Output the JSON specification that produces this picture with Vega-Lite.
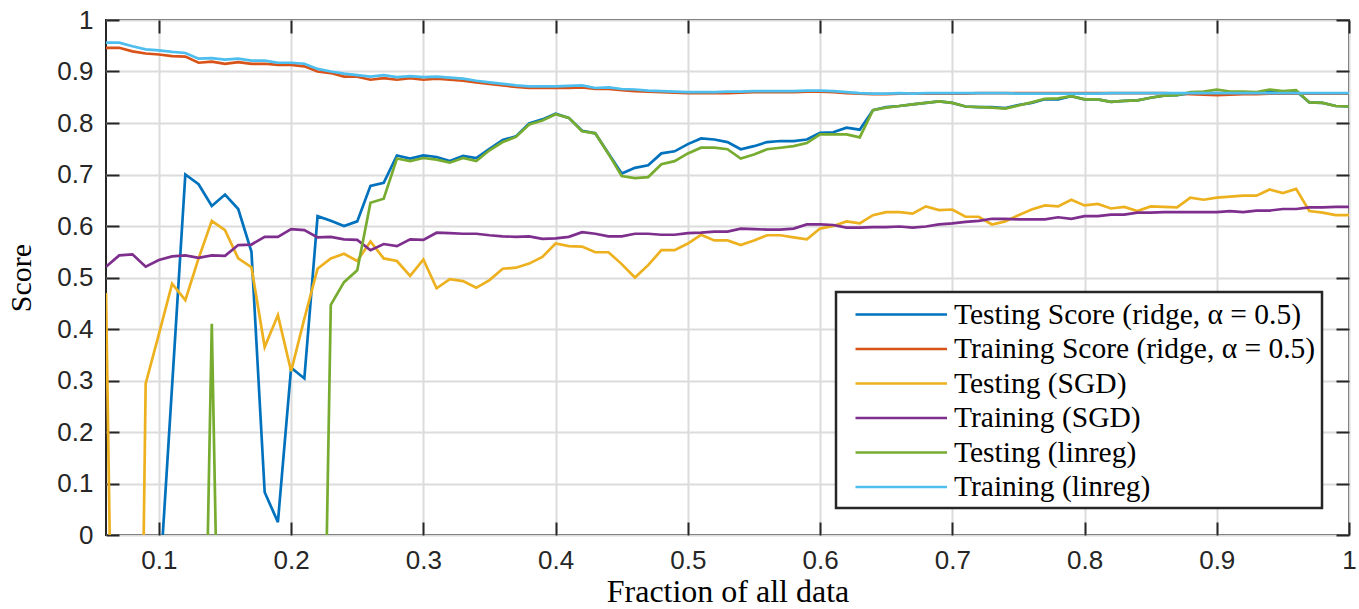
{
"$schema": "https://vega.github.io/schema/vega-lite/v6.json",
"width": 1243, "height": 515,
"autosize": {"type": "none"},
"padding": {"left": 106, "top": 20, "right": 10, "bottom": 74},
"background": "white",
"config": {
  "view": {"stroke": "#262626", "strokeWidth": 2},
  "axis": {"domain": false, "tickColor": "#262626", "tickWidth": 2, "tickSize": -13, "gridColor": "#dcdcdc", "gridWidth": 2,
    "labelFont": "Liberation Sans", "labelFontSize": 26, "labelColor": "#262626", "labelFlush": false, "labelOverlap": false, "labelBound": false,
    "titleFont": "Liberation Serif", "titleFontWeight": "normal", "titleColor": "#000000"}
},
"data": {"values": [
{"x":0.06,"rt":-1,"rr":0.946,"st":0.47,"sr":0.521,"lt":-1,"lr":0.956},
{"x":0.07,"rt":-1,"rr":0.946,"st":-1.21,"sr":0.543,"lt":-1,"lr":0.956},
{"x":0.08,"rt":-1,"rr":0.939,"st":-1.67,"sr":0.545,"lt":-1,"lr":0.949},
{"x":0.09,"rt":-1,"rr":0.935,"st":0.294,"sr":0.521,"lt":-1,"lr":0.943},
{"x":0.1,"rt":-0.12,"rr":0.933,"st":0.39,"sr":0.534,"lt":-1,"lr":0.941},
{"x":0.11,"rt":0.29,"rr":0.93,"st":0.488,"sr":0.541,"lt":-1,"lr":0.938},
{"x":0.12,"rt":0.7,"rr":0.929,"st":0.456,"sr":0.543,"lt":-1,"lr":0.936},
{"x":0.13,"rt":0.681,"rr":0.917,"st":0.537,"sr":0.538,"lt":-0.96,"lr":0.925},
{"x":0.14,"rt":0.639,"rr":0.919,"st":0.61,"sr":0.543,"lt":0.41,"lr":0.926},
{"x":0.15,"rt":0.661,"rr":0.915,"st":0.592,"sr":0.542,"lt":-0.96,"lr":0.923},
{"x":0.16,"rt":0.633,"rr":0.918,"st":0.537,"sr":0.563,"lt":-1,"lr":0.925},
{"x":0.17,"rt":0.55,"rr":0.915,"st":0.52,"sr":0.564,"lt":-1,"lr":0.921},
{"x":0.18,"rt":0.083,"rr":0.915,"st":0.365,"sr":0.579,"lt":-1,"lr":0.921},
{"x":0.19,"rt":0.025,"rr":0.913,"st":0.427,"sr":0.579,"lt":-1,"lr":0.917},
{"x":0.2,"rt":0.325,"rr":0.913,"st":0.318,"sr":0.594,"lt":-1,"lr":0.917},
{"x":0.21,"rt":0.304,"rr":0.91,"st":0.42,"sr":0.592,"lt":-1,"lr":0.915},
{"x":0.22,"rt":0.619,"rr":0.9,"st":0.517,"sr":0.578,"lt":-1.04,"lr":0.905},
{"x":0.23,"rt":0.61,"rr":0.897,"st":0.537,"sr":0.579,"lt":0.447,"lr":0.9},
{"x":0.24,"rt":0.6,"rr":0.89,"st":0.546,"sr":0.574,"lt":0.491,"lr":0.896},
{"x":0.25,"rt":0.609,"rr":0.89,"st":0.532,"sr":0.573,"lt":0.514,"lr":0.893},
{"x":0.26,"rt":0.678,"rr":0.884,"st":0.57,"sr":0.553,"lt":0.645,"lr":0.89},
{"x":0.27,"rt":0.684,"rr":0.887,"st":0.537,"sr":0.565,"lt":0.653,"lr":0.893},
{"x":0.28,"rt":0.737,"rr":0.884,"st":0.532,"sr":0.561,"lt":0.731,"lr":0.889},
{"x":0.29,"rt":0.731,"rr":0.887,"st":0.503,"sr":0.574,"lt":0.726,"lr":0.891},
{"x":0.3,"rt":0.737,"rr":0.884,"st":0.535,"sr":0.573,"lt":0.732,"lr":0.889},
{"x":0.31,"rt":0.734,"rr":0.886,"st":0.479,"sr":0.587,"lt":0.729,"lr":0.89},
{"x":0.32,"rt":0.726,"rr":0.884,"st":0.497,"sr":0.586,"lt":0.723,"lr":0.888},
{"x":0.33,"rt":0.736,"rr":0.882,"st":0.493,"sr":0.585,"lt":0.732,"lr":0.886},
{"x":0.34,"rt":0.732,"rr":0.879,"st":0.48,"sr":0.585,"lt":0.726,"lr":0.882},
{"x":0.35,"rt":0.75,"rr":0.876,"st":0.495,"sr":0.582,"lt":0.747,"lr":0.879},
{"x":0.36,"rt":0.767,"rr":0.873,"st":0.517,"sr":0.58,"lt":0.763,"lr":0.876},
{"x":0.37,"rt":0.774,"rr":0.87,"st":0.519,"sr":0.579,"lt":0.773,"lr":0.873},
{"x":0.38,"rt":0.799,"rr":0.868,"st":0.527,"sr":0.58,"lt":0.797,"lr":0.871},
{"x":0.39,"rt":0.807,"rr":0.868,"st":0.54,"sr":0.575,"lt":0.805,"lr":0.871},
{"x":0.4,"rt":0.818,"rr":0.868,"st":0.566,"sr":0.576,"lt":0.817,"lr":0.871},
{"x":0.41,"rt":0.81,"rr":0.868,"st":0.561,"sr":0.579,"lt":0.81,"lr":0.872},
{"x":0.42,"rt":0.785,"rr":0.869,"st":0.56,"sr":0.588,"lt":0.784,"lr":0.873},
{"x":0.43,"rt":0.78,"rr":0.866,"st":0.549,"sr":0.585,"lt":0.78,"lr":0.868},
{"x":0.44,"rt":0.741,"rr":0.866,"st":0.549,"sr":0.58,"lt":0.74,"lr":0.869},
{"x":0.45,"rt":0.702,"rr":0.864,"st":0.526,"sr":0.58,"lt":0.697,"lr":0.866},
{"x":0.46,"rt":0.713,"rr":0.862,"st":0.5,"sr":0.585,"lt":0.693,"lr":0.865},
{"x":0.47,"rt":0.718,"rr":0.861,"st":0.524,"sr":0.585,"lt":0.695,"lr":0.863},
{"x":0.48,"rt":0.741,"rr":0.86,"st":0.553,"sr":0.583,"lt":0.72,"lr":0.862},
{"x":0.49,"rt":0.745,"rr":0.859,"st":0.553,"sr":0.583,"lt":0.726,"lr":0.861},
{"x":0.5,"rt":0.759,"rr":0.858,"st":0.566,"sr":0.586,"lt":0.741,"lr":0.86},
{"x":0.51,"rt":0.77,"rr":0.858,"st":0.583,"sr":0.587,"lt":0.752,"lr":0.86},
{"x":0.52,"rt":0.768,"rr":0.858,"st":0.572,"sr":0.589,"lt":0.752,"lr":0.86},
{"x":0.53,"rt":0.763,"rr":0.858,"st":0.572,"sr":0.589,"lt":0.749,"lr":0.861},
{"x":0.54,"rt":0.749,"rr":0.859,"st":0.563,"sr":0.595,"lt":0.731,"lr":0.861},
{"x":0.55,"rt":0.755,"rr":0.86,"st":0.572,"sr":0.594,"lt":0.739,"lr":0.862},
{"x":0.56,"rt":0.763,"rr":0.86,"st":0.582,"sr":0.593,"lt":0.749,"lr":0.862},
{"x":0.57,"rt":0.765,"rr":0.86,"st":0.582,"sr":0.593,"lt":0.752,"lr":0.862},
{"x":0.58,"rt":0.765,"rr":0.86,"st":0.578,"sr":0.595,"lt":0.755,"lr":0.862},
{"x":0.59,"rt":0.768,"rr":0.861,"st":0.574,"sr":0.603,"lt":0.761,"lr":0.863},
{"x":0.6,"rt":0.781,"rr":0.861,"st":0.595,"sr":0.603,"lt":0.778,"lr":0.863},
{"x":0.61,"rt":0.782,"rr":0.86,"st":0.6,"sr":0.602,"lt":0.778,"lr":0.862},
{"x":0.62,"rt":0.791,"rr":0.858,"st":0.609,"sr":0.597,"lt":0.778,"lr":0.86},
{"x":0.63,"rt":0.787,"rr":0.857,"st":0.605,"sr":0.597,"lt":0.772,"lr":0.858},
{"x":0.64,"rt":0.825,"rr":0.856,"st":0.621,"sr":0.598,"lt":0.825,"lr":0.857},
{"x":0.65,"rt":0.831,"rr":0.856,"st":0.627,"sr":0.598,"lt":0.83,"lr":0.857},
{"x":0.66,"rt":0.833,"rr":0.857,"st":0.627,"sr":0.599,"lt":0.833,"lr":0.858},
{"x":0.67,"rt":0.836,"rr":0.857,"st":0.624,"sr":0.597,"lt":0.836,"lr":0.857},
{"x":0.68,"rt":0.839,"rr":0.857,"st":0.638,"sr":0.599,"lt":0.839,"lr":0.858},
{"x":0.69,"rt":0.842,"rr":0.857,"st":0.631,"sr":0.603,"lt":0.842,"lr":0.858},
{"x":0.7,"rt":0.839,"rr":0.857,"st":0.632,"sr":0.605,"lt":0.839,"lr":0.858},
{"x":0.71,"rt":0.832,"rr":0.857,"st":0.618,"sr":0.608,"lt":0.832,"lr":0.858},
{"x":0.72,"rt":0.831,"rr":0.858,"st":0.618,"sr":0.61,"lt":0.831,"lr":0.858},
{"x":0.73,"rt":0.831,"rr":0.858,"st":0.603,"sr":0.614,"lt":0.83,"lr":0.858},
{"x":0.74,"rt":0.829,"rr":0.858,"st":0.609,"sr":0.614,"lt":0.828,"lr":0.858},
{"x":0.75,"rt":0.835,"rr":0.858,"st":0.621,"sr":0.613,"lt":0.834,"lr":0.857},
{"x":0.76,"rt":0.839,"rr":0.858,"st":0.632,"sr":0.613,"lt":0.84,"lr":0.857},
{"x":0.77,"rt":0.846,"rr":0.858,"st":0.64,"sr":0.613,"lt":0.847,"lr":0.857},
{"x":0.78,"rt":0.846,"rr":0.858,"st":0.638,"sr":0.617,"lt":0.848,"lr":0.857},
{"x":0.79,"rt":0.852,"rr":0.858,"st":0.651,"sr":0.614,"lt":0.852,"lr":0.857},
{"x":0.8,"rt":0.846,"rr":0.858,"st":0.64,"sr":0.619,"lt":0.846,"lr":0.857},
{"x":0.81,"rt":0.846,"rr":0.858,"st":0.643,"sr":0.619,"lt":0.846,"lr":0.857},
{"x":0.82,"rt":0.841,"rr":0.858,"st":0.634,"sr":0.622,"lt":0.841,"lr":0.858},
{"x":0.83,"rt":0.843,"rr":0.858,"st":0.637,"sr":0.622,"lt":0.843,"lr":0.858},
{"x":0.84,"rt":0.844,"rr":0.858,"st":0.629,"sr":0.626,"lt":0.844,"lr":0.858},
{"x":0.85,"rt":0.849,"rr":0.858,"st":0.638,"sr":0.626,"lt":0.849,"lr":0.858},
{"x":0.86,"rt":0.853,"rr":0.858,"st":0.637,"sr":0.627,"lt":0.853,"lr":0.858},
{"x":0.87,"rt":0.854,"rr":0.857,"st":0.636,"sr":0.627,"lt":0.854,"lr":0.858},
{"x":0.88,"rt":0.858,"rr":0.856,"st":0.655,"sr":0.627,"lt":0.86,"lr":0.858},
{"x":0.89,"rt":0.858,"rr":0.855,"st":0.651,"sr":0.627,"lt":0.861,"lr":0.858},
{"x":0.9,"rt":0.858,"rr":0.854,"st":0.655,"sr":0.627,"lt":0.865,"lr":0.858},
{"x":0.91,"rt":0.857,"rr":0.855,"st":0.657,"sr":0.629,"lt":0.861,"lr":0.858},
{"x":0.92,"rt":0.857,"rr":0.856,"st":0.659,"sr":0.627,"lt":0.861,"lr":0.858},
{"x":0.93,"rt":0.858,"rr":0.856,"st":0.659,"sr":0.63,"lt":0.86,"lr":0.858},
{"x":0.94,"rt":0.86,"rr":0.857,"st":0.671,"sr":0.63,"lt":0.865,"lr":0.858},
{"x":0.95,"rt":0.86,"rr":0.857,"st":0.664,"sr":0.633,"lt":0.862,"lr":0.858},
{"x":0.96,"rt":0.862,"rr":0.857,"st":0.672,"sr":0.633,"lt":0.864,"lr":0.858},
{"x":0.97,"rt":0.84,"rr":0.857,"st":0.629,"sr":0.636,"lt":0.84,"lr":0.858},
{"x":0.98,"rt":0.839,"rr":0.857,"st":0.626,"sr":0.636,"lt":0.839,"lr":0.858},
{"x":0.99,"rt":0.833,"rr":0.857,"st":0.621,"sr":0.637,"lt":0.833,"lr":0.858},
{"x":1.0,"rt":0.832,"rr":0.857,"st":0.621,"sr":0.637,"lt":0.832,"lr":0.858}
]},
"transform": [{"fold": ["rt", "rr", "st", "sr", "lt", "lr"], "as": ["series", "score"]}],
"layer": [
  {
    "mark": {"type": "line", "strokeWidth": 2.7, "clip": true},
    "encoding": {
      "x": {"field": "x", "type": "quantitative",
        "scale": {"domain": [0.06, 1], "nice": false, "zero": false},
        "axis": {"orient": "bottom", "values": [0.1, 0.2, 0.3, 0.4, 0.5, 0.6, 0.7, 0.8, 0.9, 1], "format": "~g", "labelPadding": 25,
          "title": "Fraction of all data", "titleFontSize": 32, "titlePadding": 3}},
      "y": {"field": "score", "type": "quantitative",
        "scale": {"domain": [0, 1], "nice": false, "zero": false},
        "axis": {"orient": "left", "values": [0, 0.1, 0.2, 0.3, 0.4, 0.5, 0.6, 0.7, 0.8, 0.9, 1], "format": "~g", "labelPadding": 26,
          "title": "Score", "titleFontSize": 30, "titlePadding": 20}},
      "color": {"field": "series", "type": "nominal",
        "scale": {"domain": ["rt", "rr", "st", "sr", "lt", "lr"], "range": ["#0072BD", "#D95319", "#EDB120", "#7E2F8E", "#77AC30", "#4DBEEE"]},
        "legend": {"orient": "none", "legendX": 730, "legendY": 272, "title": null,
          "symbolType": "M-0.2,0H5.9", "symbolSize": 900, "symbolStrokeWidth": 2.7,
          "labelOffset": 79, "labelFont": "Liberation Serif", "labelFontSize": 29.5, "labelColor": "#000000", "labelLimit": 0,
          "rowPadding": 3.5, "padding": 6, "strokeColor": "#262626", "fillColor": "white",
          "labelExpr": "datum.label == 'rt' ? 'Testing Score (ridge, α = 0.5)' : datum.label == 'rr' ? 'Training Score (ridge, α = 0.5)' : datum.label == 'st' ? 'Testing (SGD)' : datum.label == 'sr' ? 'Training (SGD)' : datum.label == 'lt' ? 'Testing (linreg)' : 'Training (linreg)'",
          "encode": {"legend": {"update": {"strokeWidth": {"value": 2.5}}}}}
      }
    }
  },
  {
    "mark": {"type": "point", "opacity": 0},
    "encoding": {
      "x": {"field": "x", "type": "quantitative",
        "axis": {"orient": "top", "values": [0.1, 0.2, 0.3, 0.4, 0.5, 0.6, 0.7, 0.8, 0.9, 1], "labels": false, "grid": false, "title": null}},
      "y": {"field": "score", "type": "quantitative",
        "axis": {"orient": "right", "values": [0, 0.1, 0.2, 0.3, 0.4, 0.5, 0.6, 0.7, 0.8, 0.9, 1], "labels": false, "grid": false, "title": null}}
    }
  }
],
"resolve": {"axis": {"x": "independent", "y": "independent"}}
}
